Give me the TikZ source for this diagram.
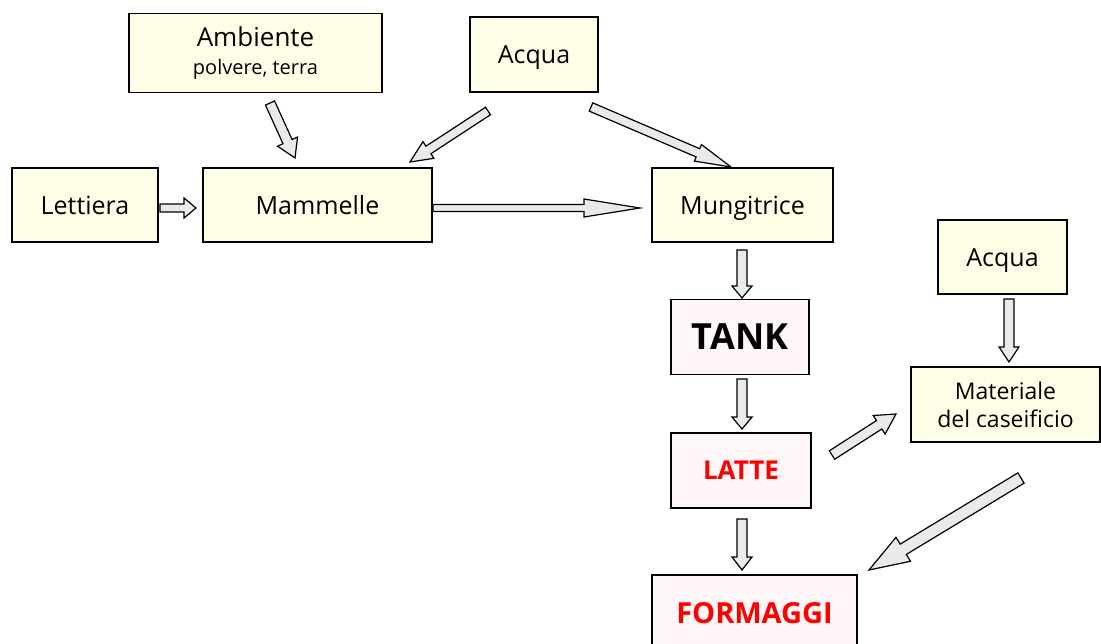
\documentclass[tikz,border=0pt]{standalone}
\usepackage{fontspec}
\setmainfont{Open Sans}
\usetikzlibrary{calc}
\definecolor{cream}{RGB}{255,255,232}
\definecolor{pinkish}{RGB}{255,247,247}
\definecolor{arrgray}{RGB}{234,234,234}
\definecolor{lred}{RGB}{255,0,0}
\tikzset{
  box/.style={draw=black, line width=1.6pt, fill=cream, inner sep=0pt, align=center,
    font=\fontsize{25}{30}\selectfont},
  one/.style={text height=#1, text depth=0pt},
  one/.default=18pt,
  pbox/.style={box, fill=pinkish},
  blk/.style={draw=black, line width=1.2pt, fill=arrgray, line join=miter},
}
\newcommand\blockarr[5]{%
  \draw[blk] let \p1=(#1), \p2=(#2), \n1={atan2(\y2-\y1,\x2-\x1)},
    \n2={veclen(\x2-\x1,\y2-\y1)} in
    [shift={(\p1)}, rotate=\n1]
    (0,-#3) -- ({\n2-#5},-#3) -- ({\n2-#5},-#4) -- (\n2,0) --
    ({\n2-#5},#4) -- ({\n2-#5},#3) -- (0,#3) -- cycle;
}
\begin{document}
\begin{tikzpicture}[x=1pt,y=-1pt]
\useasboundingbox (0,0) rectangle (1101,643);
\clip (0,0) rectangle (1101,643);
% nodes
\node[box, minimum width=253pt, minimum height=79pt,
  font=\fontsize{26}{28}\selectfont] (amb) at (255.5,53)
  {Ambiente\\{\fontsize{20}{26}\selectfont polvere, terra}};
\node[box, one, minimum width=146pt, minimum height=74pt] (lett) at (85,205) {Lettiera};
\node[box, one, minimum width=229pt, minimum height=74pt] (mamm) at (317.5,205) {Mammelle};
\node[box, one, minimum width=128pt, minimum height=75pt] (acq1) at (534,54.5) {Acqua};
\node[box, one, minimum width=181pt, minimum height=74pt] (mung) at (742.5,205) {Mungitrice};
\node[pbox, one=25.5pt, minimum width=138pt, minimum height=75pt,
  font=\fontsize{36}{40}\selectfont\bfseries] (tank) at (740,337) {TANK};
\node[box, one, minimum width=129pt, minimum height=74pt] (acq2) at (1002.5,257) {Acqua};
\node[box, minimum width=189pt, minimum height=75pt,
  font=\fontsize{23}{28}\selectfont] (mat) at (1005.5,404.5) {Materiale\\del caseificio};
\node[pbox, one=18.5pt, minimum width=140pt, minimum height=75pt, text=lred,
  font=\fontsize{26}{30}\selectfont\bfseries] (latte) at (741,470.5) {LATTE};
\node[pbox, one=20.7pt, minimum width=205pt, minimum height=76pt, text=lred,
  font=\fontsize{29}{34}\selectfont\bfseries] (form) at (754.5,613) {FORMAGGI};
% arrow end points
\coordinate (a1s) at (270,103);  \coordinate (a1e) at (295,158);
\coordinate (a2s) at (488,111);  \coordinate (a2e) at (410,162);
\coordinate (a3s) at (591,107);  \coordinate (a3e) at (731,167);
\coordinate (a4s) at (160,208);  \coordinate (a4e) at (196,208);
\coordinate (a5s) at (433,208);  \coordinate (a5e) at (640,208);
\coordinate (a6s) at (742,250);  \coordinate (a6e) at (742,298);
\coordinate (a7s) at (742,379);  \coordinate (a7e) at (742,429);
\coordinate (a8s) at (742,519);  \coordinate (a8e) at (742,570);
\coordinate (a9s) at (1009,299); \coordinate (a9e) at (1009,362);
\coordinate (a10s) at (832,455); \coordinate (a10e) at (896,414);
\coordinate (a11s) at (1021,478); \coordinate (a11e) at (869,570);
% block arrows
\blockarr{a1s}{a1e}{5}{11}{18}
\blockarr{a2s}{a2e}{4.5}{10}{22}
\blockarr{a3s}{a3e}{4.5}{9}{36}
\blockarr{a4s}{a4e}{4}{10}{12}
\blockarr{a5s}{a5e}{3.5}{9}{56}
\blockarr{a6s}{a6e}{5}{10}{12}
\blockarr{a7s}{a7e}{5}{10}{12}
\blockarr{a8s}{a8e}{5}{10}{13}
\blockarr{a9s}{a9e}{5}{10}{15}
\blockarr{a10s}{a10e}{5}{11}{20}
\blockarr{a11s}{a11e}{6}{14}{40}
\end{tikzpicture}
\end{document}
